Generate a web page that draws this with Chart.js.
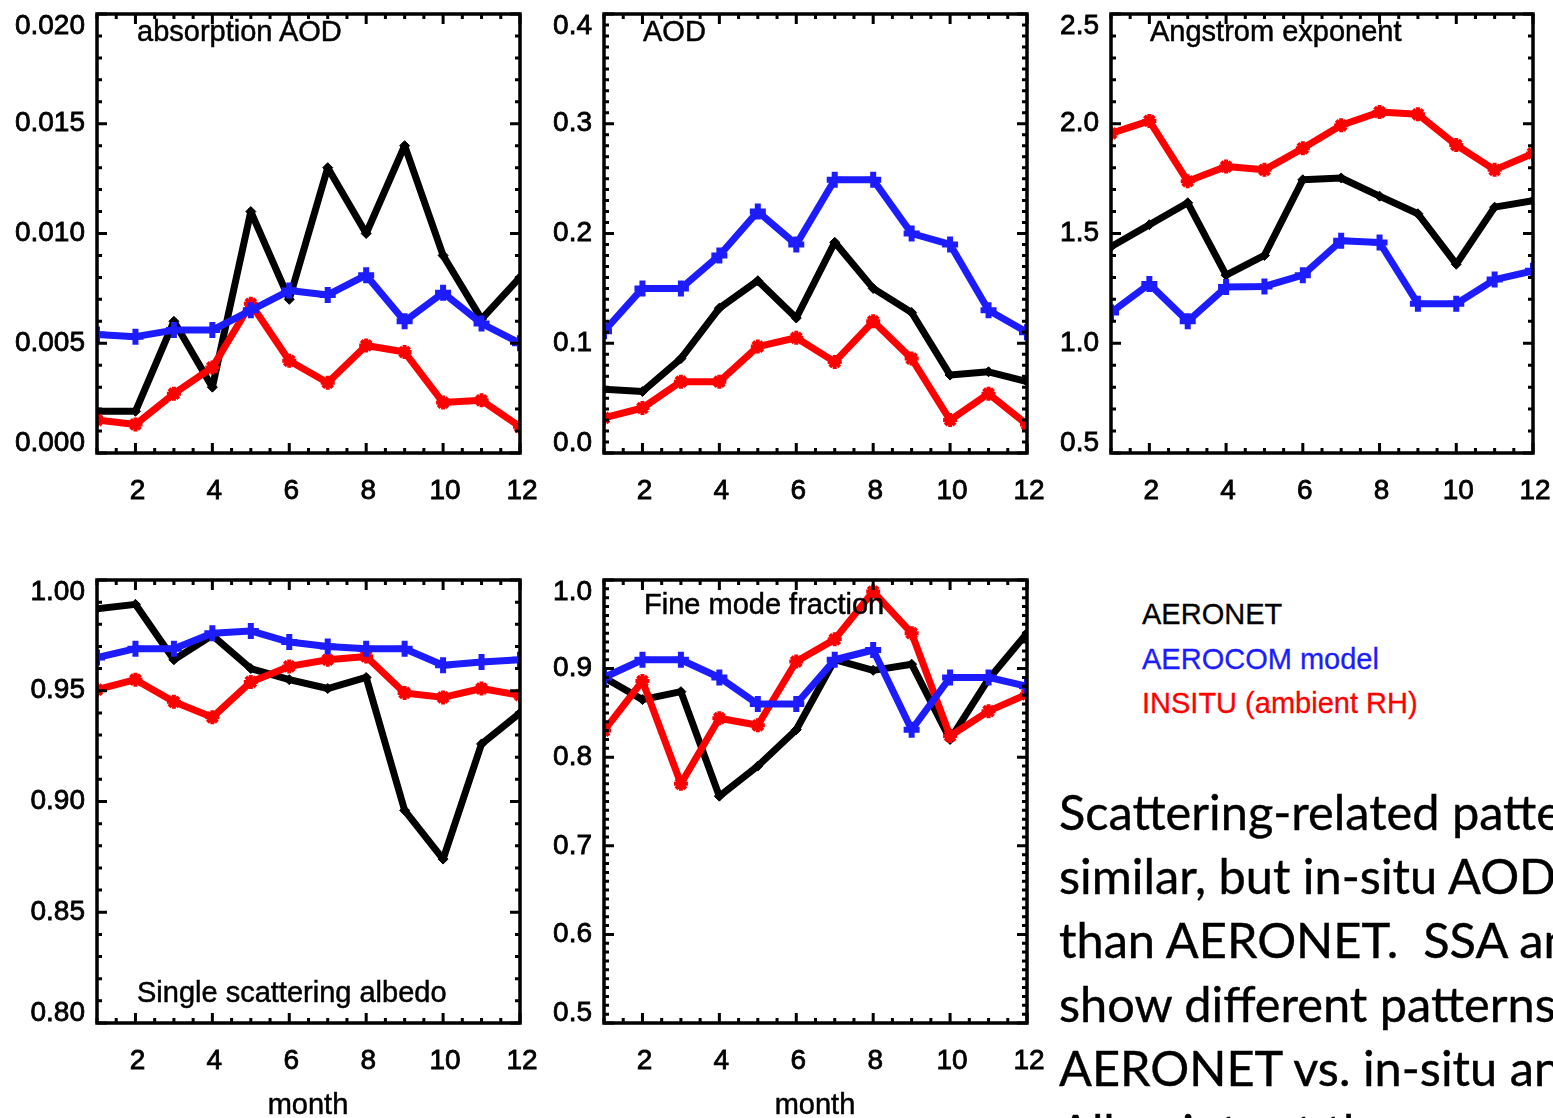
<!DOCTYPE html>
<html>
<head>
<meta charset="utf-8">
<script src="https://cdn.jsdelivr.net/npm/chart.js@4.4.1/dist/chart.umd.min.js"></script>
<style>
  body { margin: 0; width: 1553px; height: 1118px; overflow: hidden; background: #fff; position: relative;
         font-family: "Liberation Sans", Arial, sans-serif; }
  canvas { position: absolute; }
  .lbl { position: absolute; font-size: 29px; line-height: 29px; white-space: nowrap; color: #000;
         -webkit-text-stroke: 0.5px #000; }
  .month { width: 200px; text-align: center; }
  #legend { position: absolute; left: 1142px; top: 592px; font-size: 29px; line-height: 44.5px; white-space: nowrap; }
  #legend div { -webkit-text-stroke: 0.3px currentColor; }
  #para { position: absolute; left: 1059px; top: 779px; font-family: Lato, "Open Sans", sans-serif; font-size: 49px;
          line-height: 64px; white-space: pre; color: #000; transform-origin: 0 0; -webkit-text-stroke: 0.4px #000; }
</style>
</head>
<body>
<canvas id="c1" width="548" height="530" style="left:0;top:0"></canvas>
<canvas id="c2" width="505" height="530" style="left:548px;top:0"></canvas>
<canvas id="c3" width="500" height="530" style="left:1053px;top:0"></canvas>
<canvas id="c4" width="548" height="578" style="left:0;top:540px"></canvas>
<canvas id="c5" width="505" height="578" style="left:548px;top:540px"></canvas>

<div class="lbl" style="left:137px;top:17px">absorption AOD</div>
<div class="lbl" style="left:643px;top:17px">AOD</div>
<div class="lbl" style="left:1150px;top:17px">Angstrom exponent</div>
<div class="lbl" style="left:137px;top:978px">Single scattering albedo</div>
<div class="lbl" style="left:644px;top:590px">Fine mode fraction</div>
<div class="lbl month" style="left:208px;top:1090px">month</div>
<div class="lbl month" style="left:715px;top:1090px">month</div>

<div id="legend">
  <div style="color:#000">AERONET</div>
  <div style="color:#1c1cff">AEROCOM model</div>
  <div style="color:#ff0000">INSITU (ambient RH)</div>
</div>

<div id="para">Scattering-related patterns are
similar, but in-situ AOD is lower
than AERONET.  SSA and FMF
show different patterns for
AERONET vs. in-situ and model.
All points at the same site.</div>

<script>
const months = [1, 2, 3, 4, 5, 6, 7, 8, 9, 10, 11, 12];
const xTickValues = [2, 4, 6, 8, 10, 12];

// absorption AOD
const absAeronet = [0.0019, 0.0019, 0.0060, 0.0030, 0.0110, 0.0070, 0.0130, 0.0100, 0.0140, 0.0090, 0.0061, 0.0080];
const absModel   = [0.0054, 0.0053, 0.0056, 0.0056, 0.0065, 0.0074, 0.0072, 0.0081, 0.0060, 0.0073, 0.0059, 0.0050];
const absInsitu  = [0.0015, 0.0013, 0.0027, 0.0039, 0.0068, 0.0042, 0.0032, 0.0049, 0.0046, 0.0023, 0.0024, 0.0012];
const absTickLabels = ['0.000', '0.005', '0.010', '0.015', '0.020'];

// AOD
const aodAeronet = [0.058, 0.056, 0.086, 0.132, 0.157, 0.123, 0.192, 0.150, 0.128, 0.071, 0.074, 0.065];
const aodModel   = [0.111, 0.150, 0.150, 0.180, 0.220, 0.190, 0.249, 0.249, 0.200, 0.190, 0.130, 0.110];
const aodInsitu  = [0.032, 0.041, 0.065, 0.065, 0.097, 0.105, 0.083, 0.120, 0.086, 0.030, 0.054, 0.026];
const aodTickLabels = ['0.0', '0.1', '0.2', '0.3', '0.4'];

// Angstrom exponent
const angAeronet = [1.44, 1.54, 1.64, 1.31, 1.40, 1.745, 1.753, 1.67, 1.59, 1.36, 1.62, 1.65];
const angModel   = [1.14, 1.27, 1.10, 1.256, 1.259, 1.31, 1.467, 1.459, 1.18, 1.18, 1.29, 1.33];
const angInsitu  = [1.956, 2.013, 1.738, 1.805, 1.79, 1.888, 1.993, 2.053, 2.043, 1.903, 1.79, 1.865];
const angTickLabels = ['0.5', '1.0', '1.5', '2.0', '2.5'];

// single scattering albedo
const ssaAeronet = [0.987, 0.989, 0.964, 0.975, 0.960, 0.955, 0.951, 0.956, 0.896, 0.874, 0.926, 0.940];
const ssaModel   = [0.965, 0.969, 0.969, 0.976, 0.977, 0.972, 0.970, 0.969, 0.969, 0.9615, 0.963, 0.964];
const ssaInsitu  = [0.9505, 0.955, 0.945, 0.938, 0.954, 0.961, 0.964, 0.9655, 0.949, 0.947, 0.951, 0.948];
const ssaTickLabels = ['0.80', '0.85', '0.90', '0.95', '1.00'];

// fine mode fraction
const fmfAeronet = [0.890, 0.865, 0.874, 0.756, 0.790, 0.831, 0.910, 0.898, 0.905, 0.820, 0.888, 0.940];
const fmfModel   = [0.890, 0.910, 0.910, 0.890, 0.860, 0.860, 0.910, 0.921, 0.831, 0.890, 0.890, 0.880];
const fmfInsitu  = [0.830, 0.886, 0.770, 0.844, 0.836, 0.908, 0.933, 0.987, 0.940, 0.824, 0.852, 0.871];
const fmfTickLabels = ['0.5', '0.6', '0.7', '0.8', '0.9', '1.0'];

const BLUE = '#1c1cff';
const RED = '#ff0000';

const toXY = arr => arr.map((v, i) => ({ x: months[i], y: v }));

// IDL style box: frame, inward ticks on all four sides, labels
function makeFrame(labels, minor) {
  const ticks = labels.map(Number);
  const min = ticks[0], max = ticks[ticks.length - 1];
  return {
    id: 'axisFrame',
    afterDatasetsDraw(chart) {
      const { ctx, chartArea: a } = chart;
      const x = chart.scales.x, y = chart.scales.y;
      ctx.save();
      ctx.strokeStyle = '#000';
      ctx.lineWidth = 3;
      ctx.beginPath();
      for (let k = 0; k <= 22; k++) {
        const v = 1 + k * 0.5;
        const px = x.getPixelForValue(v);
        const len = xTickValues.includes(v) ? 10 : 5;
        ctx.moveTo(px, a.bottom); ctx.lineTo(px, a.bottom - len);
        ctx.moveTo(px, a.top); ctx.lineTo(px, a.top + len);
      }
      const n = Math.round((max - min) / minor);
      for (let k = 0; k <= n; k++) {
        const v = min + k * minor;
        const py = y.getPixelForValue(v);
        const major = ticks.some(t => Math.abs(t - v) < minor / 10);
        const len = major ? 10 : 5;
        ctx.moveTo(a.left, py); ctx.lineTo(a.left + len, py);
        ctx.moveTo(a.right, py); ctx.lineTo(a.right - len, py);
      }
      ctx.stroke();
      ctx.lineWidth = 3.5;
      ctx.strokeRect(a.left, a.top, a.right - a.left, a.bottom - a.top);

      ctx.fillStyle = '#000';
      ctx.lineWidth = 0.8;
      ctx.font = '28px "Liberation Sans", Arial, sans-serif';
      ctx.textAlign = 'right';
      ctx.textBaseline = 'middle';
      labels.forEach((t, i) => {
        let py = y.getPixelForValue(ticks[i]);
        if (i === 0) py -= 10;
        if (i === labels.length - 1) py += 12;
        ctx.fillText(t, a.left - 12, py);
        ctx.strokeText(t, a.left - 12, py);
      });
      ctx.textAlign = 'center';
      xTickValues.forEach(v => {
        const px = x.getPixelForValue(v) + 2;
        ctx.fillText(String(v), px, a.bottom + 38);
        ctx.strokeText(String(v), px, a.bottom + 38);
      });
      ctx.restore();
    }
  };
}

function panel(id, aeronet, model, insitu, labels, minor, padding) {
  const ticks = labels.map(Number);
  new Chart(document.getElementById(id), {
    type: 'line',
    data: {
      datasets: [
        { label: 'AERONET', data: toXY(aeronet), borderColor: '#000', backgroundColor: '#000',
          borderWidth: 7, pointStyle: 'rectRot', pointRadius: 5, pointBorderWidth: 1, order: 3 },
        { label: 'AEROCOM model', data: toXY(model), borderColor: BLUE, backgroundColor: BLUE,
          borderWidth: 7, pointStyle: 'cross', pointRadius: 8, pointBorderWidth: 6, order: 1 },
        { label: 'INSITU (ambient RH)', data: toXY(insitu), borderColor: RED, backgroundColor: RED,
          borderWidth: 7, pointStyle: 'star', pointRadius: 7, pointBorderWidth: 4, order: 2 }
      ]
    },
    options: {
      responsive: false,
      animation: false,
      events: [],
      layout: { padding: padding },
      elements: { line: { tension: 0, borderJoinStyle: 'round' } },
      scales: {
        x: { type: 'linear', min: 1, max: 12, display: false },
        y: { type: 'linear', min: ticks[0], max: ticks[ticks.length - 1], display: false }
      },
      plugins: { legend: { display: false }, tooltip: { enabled: false } }
    },
    plugins: [makeFrame(labels, minor)]
  });
}

panel('c1', absAeronet, absModel, absInsitu, absTickLabels, 0.001, { left: 97, top: 10, right: 28, bottom: 77 });
panel('c2', aodAeronet, aodModel, aodInsitu, aodTickLabels, 0.01, { left: 56, top: 10, right: 26, bottom: 77 });
panel('c3', angAeronet, angModel, angInsitu, angTickLabels, 0.1, { left: 58, top: 10, right: 20, bottom: 77 });
panel('c4', ssaAeronet, ssaModel, ssaInsitu, ssaTickLabels, 0.01, { left: 97, top: 40, right: 28, bottom: 95 });
panel('c5', fmfAeronet, fmfModel, fmfInsitu, fmfTickLabels, 0.01, { left: 56, top: 40, right: 26, bottom: 95 });

// squeeze the Lato paragraph to the narrower slide font width
const para = document.getElementById('para');
const mctx = document.createElement('canvas').getContext('2d');
mctx.font = '49px Lato';
const w = mctx.measureText('similar, but in-situ AOD').width;
para.style.transform = 'scaleX(' + (499 / w).toFixed(3) + ')';
</script>
</body>
</html>
